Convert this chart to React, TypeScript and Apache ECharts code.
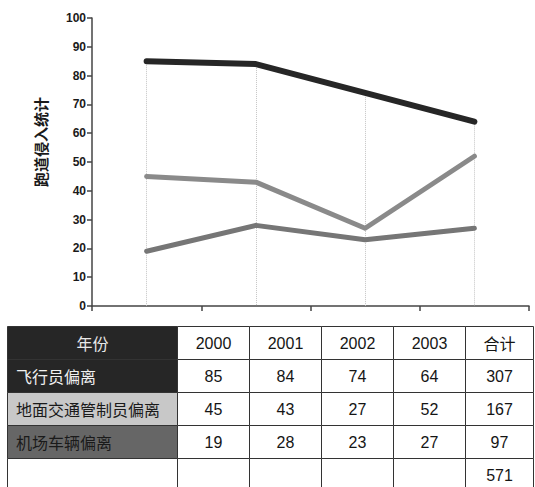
import React, { useEffect, useRef } from "react";
import * as echarts from "echarts";

// Years on the category axis and in the table header
const years = ["2000", "2001", "2002", "2003"];
// Series names (also the table's row labels)
const seriesNames = ["飞行员偏离", "地面交通管制员偏离", "机场车辆偏离"];
// Runway incursion counts per year
const pilotDeviation = [85, 84, 74, 64];
const atcDeviation = [45, 43, 27, 52];
const vehicleDeviation = [19, 28, 23, 27];
const yAxisTitle = "跑道侵入统计";
const headerLabel = "年份";
const totalLabel = "合计";

const lineColors = ["#262626", "#8a8a8a", "#767676"];
const lineWidths = [6, 5, 5];
const labelFills = ["#262626", "#c8c8c8", "#666666"];
const labelTextColors = ["#f0f0f0", "#1a1a1a", "#1a1a1a"];

const CJK = '"Noto Sans CJK SC", "Noto Sans", sans-serif';
const NUM = '"Liberation Sans", Arial, sans-serif';

function buildTable(): any[] {
  const colX = [7.5, 177.5, 249.5, 321.5, 393.5, 465.5, 533.5];
  const rowY = [326.5, 359.5, 392.5, 425.5, 458.5, 491.5];
  const allSeries = [pilotDeviation, atcDeviation, vehicleDeviation];
  const totals = allSeries.map((s) => s.reduce((a, b) => a + b, 0));
  const grand = totals.reduce((a, b) => a + b, 0);
  const els: any[] = [];
  const cell = (c: number, r: number, fill: string) => {
    els.push({
      type: "rect",
      shape: {
        x: colX[c],
        y: rowY[r],
        width: colX[c + 1] - colX[c],
        height: rowY[r + 1] - rowY[r],
      },
      style: { fill, stroke: "#333", lineWidth: 1 },
      z: 1,
    });
  };
  const text = (
    str: string,
    x: number,
    y: number,
    opts: { align?: string; fill?: string; font?: string } = {}
  ) => {
    els.push({
      type: "text",
      x,
      y,
      style: {
        text: str,
        align: opts.align || "center",
        verticalAlign: "middle",
        fill: opts.fill || "#151515",
        fontSize: 16,
        fontFamily: opts.font || NUM,
      },
      z: 2,
    });
  };
  const midX = (c: number) => (colX[c] + colX[c + 1]) / 2;
  const midY = (r: number) => (rowY[r] + rowY[r + 1]) / 2;

  // header row
  cell(0, 0, "#262626");
  text(headerLabel, midX(0), midY(0), { fill: "#e8e8e8", font: CJK });
  years.forEach((y, i) => {
    cell(i + 1, 0, "#fff");
    text(y, midX(i + 1), midY(0));
  });
  cell(5, 0, "#fff");
  text(totalLabel, midX(5), midY(0), { font: CJK });

  // data rows
  allSeries.forEach((s, r) => {
    cell(0, r + 1, labelFills[r]);
    text(seriesNames[r], 16, midY(r + 1), {
      align: "left",
      fill: labelTextColors[r],
      font: CJK,
    });
    s.forEach((v, i) => {
      cell(i + 1, r + 1, "#fff");
      text(String(v), midX(i + 1), midY(r + 1));
    });
    cell(5, r + 1, "#fff");
    text(String(totals[r]), midX(5), midY(r + 1));
  });

  // grand total row
  for (let c = 0; c < 6; c++) cell(c, 4, "#fff");
  text(String(grand), midX(5), midY(4));
  return els;
}

export default function App() {
  const ref = useRef<HTMLDivElement>(null);
  useEffect(() => {
    if (!ref.current) return;
    const chart = echarts.init(ref.current, null, { renderer: "svg" });
    const allSeries = [pilotDeviation, atcDeviation, vehicleDeviation];
    const peaks = years.map((_, i) => Math.max(...allSeries.map((s) => s[i])));

    chart.setOption({
      animation: false,
      backgroundColor: "#fff",
      grid: { left: 92, right: 6, top: 18, bottom: 181, containLabel: false },
      xAxis: {
        type: "category",
        data: years,
        boundaryGap: true,
        axisLine: { lineStyle: { color: "#444", width: 1.5 } },
        axisTick: { show: true, length: 5, lineStyle: { color: "#444", width: 1.5 } },
        axisLabel: { show: false },
        splitLine: { show: false },
      },
      yAxis: {
        type: "value",
        min: 0,
        max: 100,
        interval: 10,
        axisLine: { show: true, lineStyle: { color: "#444", width: 1.5 } },
        axisTick: { show: true, length: 5, lineStyle: { color: "#444", width: 1.5 } },
        axisLabel: {
          color: "#1a1a1a",
          fontSize: 12,
          fontWeight: "bold",
          margin: 6,
          fontFamily: '"Liberation Sans Narrow", "Liberation Sans", sans-serif',
        },
        splitLine: { show: false },
      },
      series: [
        {
          name: "drop",
          type: "line",
          data: peaks,
          symbol: "none",
          lineStyle: { opacity: 0 },
          silent: true,
          z: 1,
          markLine: {
            silent: true,
            z: 1,
            symbol: "none",
            label: { show: false },
            lineStyle: { type: "dotted", color: "#c4c4c4", width: 1 },
            data: peaks.map((p, i) => [
              { coord: [i, p] },
              { coord: [i, 0] },
            ]),
          },
        },
        ...allSeries.map((s, k) => ({
          name: seriesNames[k],
          type: "line",
          data: s,
          symbol: "none",
          z: 3 + k,
          lineStyle: {
            color: lineColors[k],
            width: lineWidths[k],
            cap: "round",
            join: "round",
          },
        })),
      ],
      graphic: [
        {
          type: "text",
          x: 40,
          y: 142,
          rotation: Math.PI / 2,
          style: {
            text: yAxisTitle,
            align: "center",
            verticalAlign: "middle",
            fontSize: 15,
            fontWeight: "bold",
            fill: "#1a1a1a",
            fontFamily: CJK,
          },
        },
        ...buildTable(),
      ],
    });
    return () => chart.dispose();
  }, []);
  return (
    <div
      ref={ref}
      style={{ position: "fixed", left: 0, top: 0, width: 535, height: 487 }}
    />
  );
}
